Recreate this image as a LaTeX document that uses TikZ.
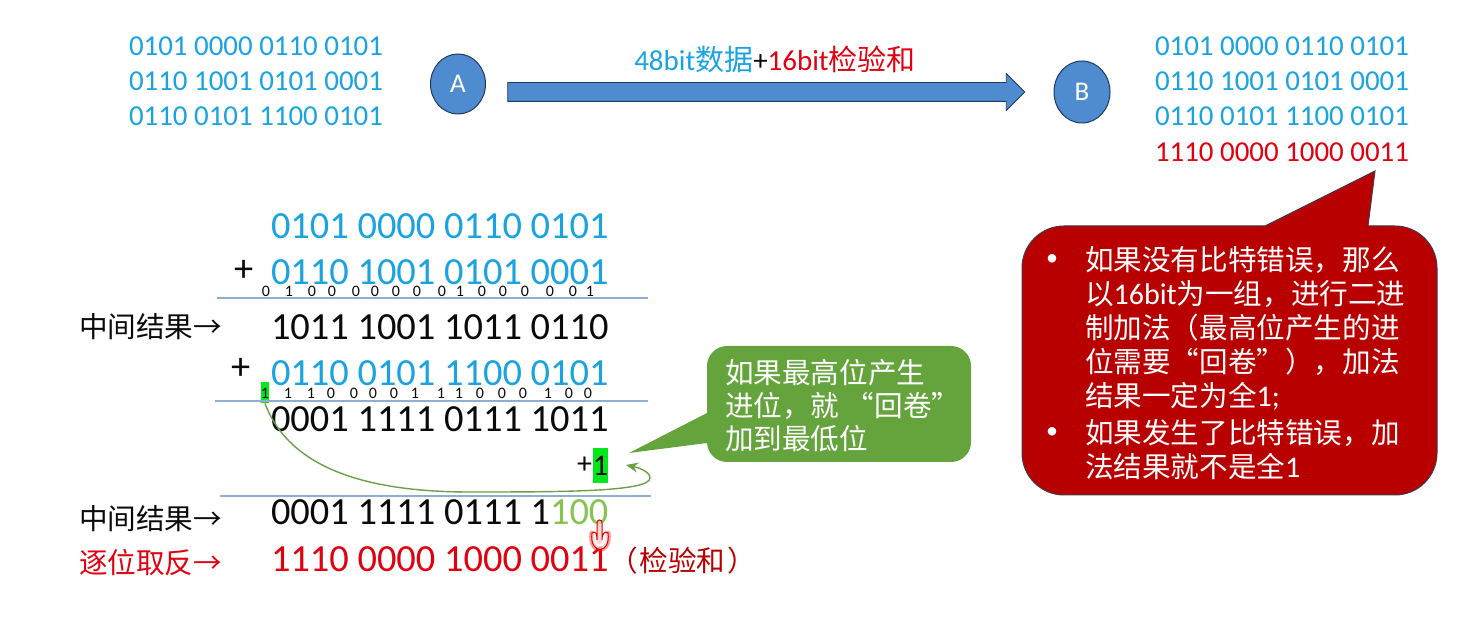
\documentclass[tikz,border=0pt]{standalone}
\usepackage{fontspec}
\setmainfont{Carlito}
\newfontfamily\cjk{Noto Sans CJK SC}
\usetikzlibrary{positioning,calc,arrows.meta,shapes.geometric,shapes.arrows}
\definecolor{sumBlue}{HTML}{1AA3E0}
\definecolor{sumRed}{HTML}{E0000F}
\definecolor{sumBlack}{HTML}{0A0A0A}
\definecolor{nodeFill}{HTML}{4F8CCF}
\definecolor{nodeLine}{HTML}{1F3864}
\definecolor{ruleLine}{HTML}{8FAFD0}
\definecolor{carryGreen}{HTML}{00E81A}
\definecolor{carryLine}{HTML}{6AA04A}
\definecolor{carryLight}{HTML}{85C452}
\definecolor{noteGreen}{HTML}{65A33D}
\definecolor{noteRed}{HTML}{B80000}
\definecolor{noteRedLine}{HTML}{44384A}
\newcommand{\latinbig}[1]{{\rmfamily\fontsize{15}{17}\selectfont #1}}
\tikzset{
  small row/.style={
    anchor=base west, inner sep=0pt, outer sep=0pt,
    font=\fontsize{14.45}{17}\selectfont,
  },
  sum row/.style={
    anchor=base west, inner sep=0pt, outer sep=0pt,
    font=\fontsize{19.2}{23}\selectfont,
  },
  carry bit/.style={
    anchor=base, inner sep=0pt, outer sep=0pt,
    font=\fontsize{8}{9}\selectfont, text=sumBlack,
  },
  host node/.style={
    ellipse, fill=nodeFill, draw=nodeLine, line width=0.5pt,
    inner sep=0pt, text=white, font=\fontsize{13.5}{14}\selectfont,
  },
  rule line/.style={
    line width=0.6pt, color=ruleLine,
  },
  side label/.style={
    anchor=base west, inner sep=0pt, outer sep=0pt,
    font=\cjk\fontsize{14.3}{17}\selectfont,
  },
  note text/.style={
    anchor=north west, inner sep=0pt, outer sep=0pt, align=left,
    text=white, font=\cjk\fontsize{14.3}{17}\selectfont,
  },
  note dot/.style={
    inner sep=0pt, text=white, font=\rmfamily\fontsize{12}{12}\selectfont,
  },
  carry arrow/.style={
    -{Stealth[length=6pt, width=5pt]},
    line width=0.7pt, color=carryLine,
  },
}
\begin{document}
\begin{tikzpicture}[x=0.5pt,y=-0.5pt]
\useasboundingbox (0,0) rectangle (1484,641);

% --- PARAMETERS ---
\def\sumrows{%
  1/239/0101 0000 0110 0101/sumBlue,%
  2/285/0110 1001 0101 0001/sumBlue,%
  3/340/1011 1001 1011 0110/sumBlack,%
  4/386/0110 0101 1100 0101/sumBlue,%
  5/432/0001 1111 0111 1011/sumBlack,%
  6/525/0001 1111 0111 1\textcolor{carryLight}{100}/sumBlack,%
  7/572/1110 0000 1000 0011/sumRed%
}
\def\carrytop{266/0,289/1,312/0,332/0,356/0,375/0,396/0,417/0,442/0,460/1,482/0,503/0,525/0,550/0,573/0,590/1}
\def\carrylow{288/1,311/1,331/0,354/0,373/0,394/0,415/1,441/1,459/1,480/0,502/0,523/0,548/1,569/0,588/0}

% --- HOSTS AND LINK ---
\node[host node, minimum width=27.5pt, minimum height=30pt] (hostA) at (458,84) {A};
\node[host node, minimum width=28pt, minimum height=31pt] (hostB) at (1082,92) {B};
\node[single arrow, single arrow head extend=4.5pt, single arrow head indent=0pt,
  minimum height=258.5pt, inner xsep=0pt, inner ysep=4.5pt,
  fill=nodeFill, draw=nodeLine, line width=0.4pt] (link) at (761.5,92) {};
\node[anchor=base, inner sep=0pt, font=\fontsize{14.5}{17}\selectfont] (linkLabel) at (775,71)
  {\textcolor{sumBlue}{48bit{\cjk 数据}}\textcolor{sumBlack}{+}\textcolor{sumRed}{16bit{\cjk 检验和}}};

% --- SENDER AND RECEIVER WORDS ---
\foreach \sidx/\ypos/\word in {1/56/0101 0000 0110 0101, 2/91/0110 1001 0101 0001, 3/126/0110 0101 1100 0101} {
  \node[small row, text=sumBlue] (send\sidx) at (129,\ypos) {\word};
  \node[small row, text=sumBlue] (recv\sidx) at (1155,\ypos) {\word};
}
\node[small row, text=sumRed] (recv4) at (1155,162) {1110 0000 1000 0011};

% --- SUM ROWS ---
\foreach \ridx/\ypos/\word/\colText in \sumrows {
  \node[sum row, text=\colText] (row\ridx) at (271,\ypos) {\word};
}
\node[sum row, text=sumBlack] (plusA) at (234,282) {+};
\node[sum row, text=sumBlack] (plusB) at (231,380) {+};

% --- CARRY BITS ---
\node[inner sep=0pt, fill=carryGreen, minimum width=4pt, minimum height=10.5pt] (carryBox) at (265,392.5) {};
\node[carry bit] (low0) at (265,399) {1};
\foreach \bx/\bval in \carrytop {
  \node[carry bit] (top\bx) at (\bx,297) {\bval};
}
\foreach \bx/\bval in \carrylow {
  \node[carry bit] (low\bx) at (\bx,399) {\bval};
}

% --- RULES ---
\coordinate (ruleAl) at (217,298);
\coordinate (ruleAr) at (648,298);
\coordinate (ruleBl) at (215,401);
\coordinate (ruleBr) at (648,401);
\coordinate (ruleCl) at (220,496);
\coordinate (ruleCr) at (651,496);
\foreach \a in {A,B,C} {
  \draw[rule line] (rule\a l) -- (rule\a r);
}

% --- WRAP-AROUND ---
\node[inner sep=0pt, fill=carryGreen, minimum width=7.5pt, minimum height=17.5pt,
  font=\fontsize{15}{17}\selectfont, text=sumBlack] (oneBox) at (600.5,465.5) {1};
\node[inner sep=0pt, left=0pt of oneBox, font=\fontsize{15}{17}\selectfont, text=sumBlack] (onePlus) {+};
\coordinate (loopEnd) at (626,465);
\draw[carry arrow] (carryBox.south) .. controls (290,470) and (370,492) .. (470,492)
  .. controls (560,492) and (650,492) .. (650,478) .. controls (650,472) and (640,468) .. (loopEnd);

% --- SIDE LABELS ---
\node[side label, text=sumBlack] (midA) at (79,338) {中间结果→};
\node[side label, text=sumBlack] (midB) at (79,530) {中间结果→};
\node[side label, text=sumRed] (flip) at (79,574) {逐位取反→};
\node[side label, text=noteRed] (sumTag) at (609,572) {（\kern1pt 检验和\kern1pt ）};

% --- GREEN NOTE ---
\fill[noteGreen] (707,413) -- (629,453) -- (707,443)
  {[rounded corners=10pt] -- (707,462) -- (971,462) -- (971,346) -- (707,346)} -- cycle;
\node[note text, font=\cjk\fontsize{14.3}{16.5}\selectfont] (greenText) at (725,359)
  {如果最高位产生\\进位，就 “回卷”\\加到最低位};

% --- RED NOTE ---
\draw[fill=noteRed, draw=noteRedLine, line width=0.5pt] (1265,226) -- (1375,171) -- (1368,226)
  {[rounded corners=21pt] -- (1437,226) -- (1437,495) -- (1022,495) -- (1022,226)} -- cycle;
\node[note dot] (dotA) at (1052,260) {•};
\node[note dot] (dotB) at (1052,433) {•};
\node[note text] (redTextA) at (1085,246) {如果没有比特错误，那么\\以\latinbig{16bit}为一组，进行二进\\制加法（最高位产生的进\\位需要“回卷”），加法\\结果一定为全\latinbig{1;}};
\node[note text] (redTextB) at (1085,419) {如果发生了比特错误，加\\法结果就不是全\latinbig{1}};

% --- POINTER ---
\draw[red, line width=2.5pt, opacity=0.4, line cap=round] (592,533) .. controls (589,555) and (611,555) .. (608,533);
\draw[red, line width=2.5pt, opacity=0.4, line cap=round] (599.5,522) -- (599.5,542);
\draw[red!85!black, fill=white, fill opacity=0.6, line width=0.5pt] (592,533) .. controls (589,555) and (611,555) .. (608,533)
  .. controls (604,530) and (602,535) .. (602,540) -- (602,523) .. controls (602,519) and (597,519) .. (597,523) -- (597,540)
  .. controls (597,535) and (596,530) .. (592,533);

\end{tikzpicture}
\end{document}
